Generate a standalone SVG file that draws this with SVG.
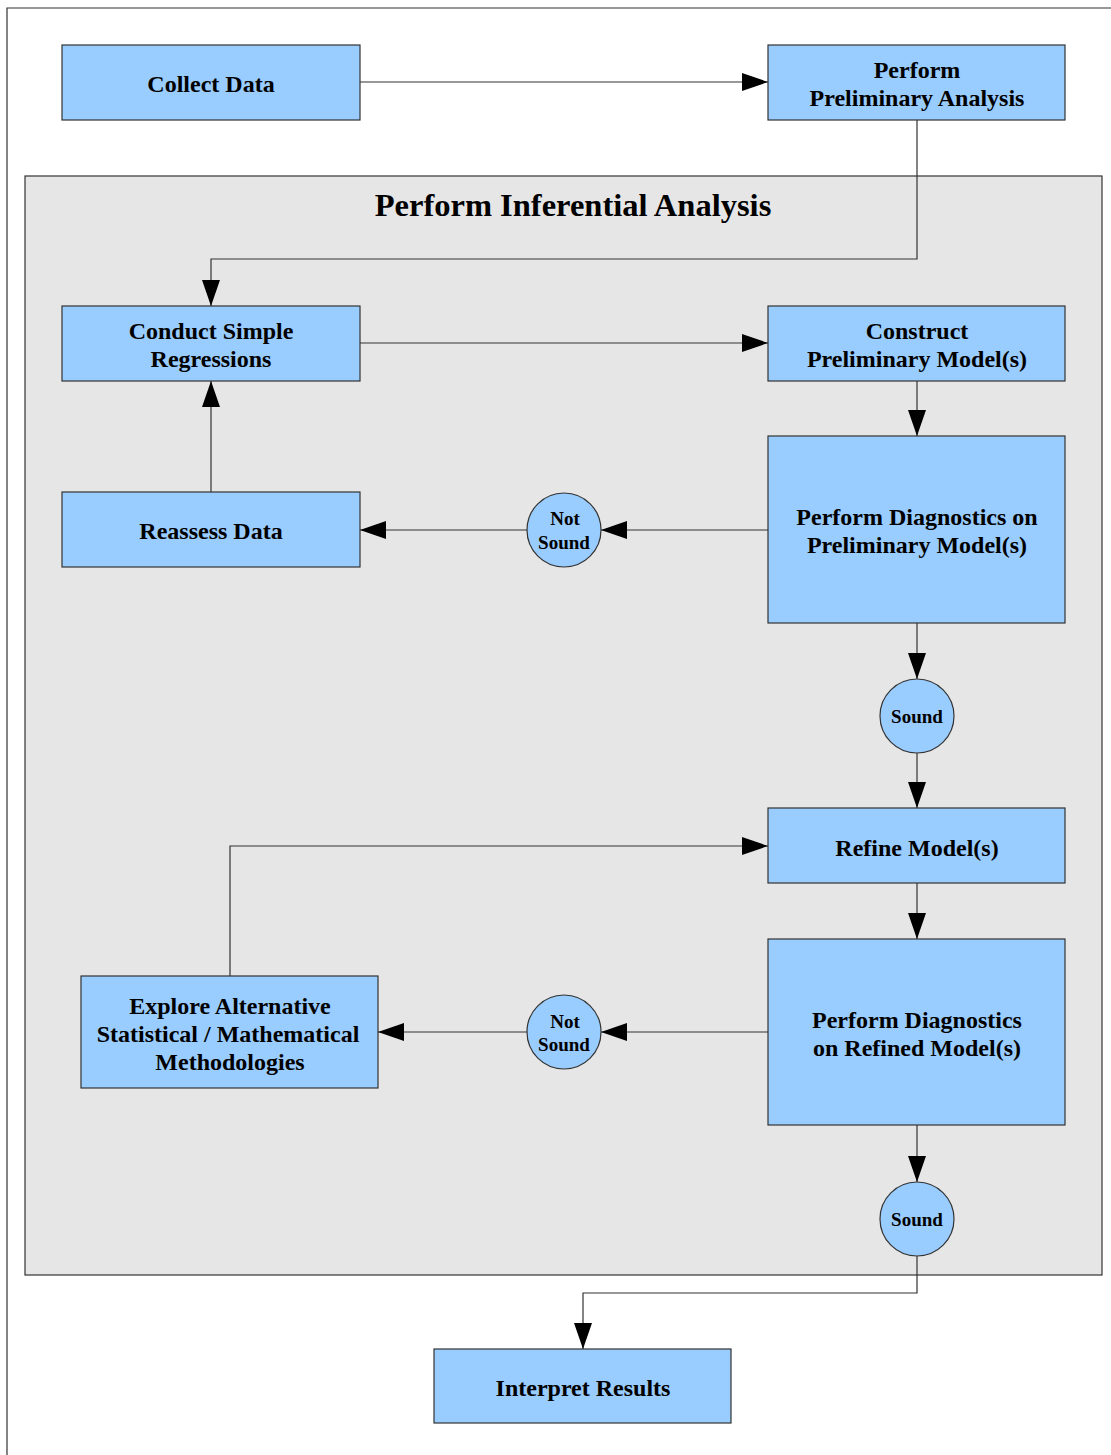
<svg xmlns="http://www.w3.org/2000/svg" width="1111" height="1455" viewBox="0 0 1111 1455">
<defs>
<marker id="ah" markerWidth="26" markerHeight="18" refX="26" refY="9" orient="auto" markerUnits="userSpaceOnUse">
<path d="M0,0 L26,9 L0,18 Z" fill="#000"/>
</marker>
<style>
.box{fill:#99ccff;stroke:#333;stroke-width:1.2}
.circ{fill:#99ccff;stroke:#333;stroke-width:1.2}
.t{font-family:"Liberation Serif",serif;font-weight:bold;font-size:24px;text-anchor:middle;fill:#000}
.ts{font-family:"Liberation Serif",serif;font-weight:bold;font-size:19px;text-anchor:middle;fill:#000}
.c{fill:none;stroke:#333;stroke-width:1.2;marker-end:url(#ah)}
</style>
</defs>
<rect width="1111" height="1455" fill="#fff"/>
<path d="M7,1455 V8 H1111" fill="none" stroke="#333" stroke-width="1.2"/>
<g id="container">
<rect x="25" y="176" width="1077" height="1099" fill="#e6e6e6" stroke="#333" stroke-width="1.2"/>
<text x="573" y="216" style="font-family:'Liberation Serif',serif;font-weight:bold;font-size:32.5px;text-anchor:middle">Perform Inferential Analysis</text>
</g>
<g id="connectors">
<path class="c" d="M360,82 H768"/>
<path class="c" d="M917,120 V259 H211 V306"/>
<path class="c" d="M360,343 H768"/>
<path class="c" d="M917,381 V436"/>
<path class="c" d="M768,530 H601"/>
<path class="c" d="M527,530 H360"/>
<path class="c" d="M211,492 V381"/>
<path class="c" d="M917,623 V679"/>
<path class="c" d="M917,753 V808"/>
<path class="c" d="M917,883 V939"/>
<path class="c" d="M768,1032 H601"/>
<path class="c" d="M527,1032 H378"/>
<path class="c" d="M230,976 V846 H768"/>
<path class="c" d="M917,1125 V1182"/>
<path class="c" d="M917,1256 V1293 H583 V1349"/>
</g>
<g id="collect"><rect class="box" x="62" y="45" width="298" height="75"/><text class="t" x="211" y="92">Collect Data</text></g>
<g id="prelim"><rect class="box" x="768" y="45" width="297" height="75"/><text class="t" x="917" y="78">Perform</text><text class="t" x="917" y="106">Preliminary Analysis</text></g>
<g id="conduct"><rect class="box" x="62" y="306" width="298" height="75"/><text class="t" x="211" y="339">Conduct Simple</text><text class="t" x="211" y="367">Regressions</text></g>
<g id="construct"><rect class="box" x="768" y="306" width="297" height="75"/><text class="t" x="917" y="339">Construct</text><text class="t" x="917" y="367">Preliminary Model(s)</text></g>
<g id="reassess"><rect class="box" x="62" y="492" width="298" height="75"/><text class="t" x="211" y="539">Reassess Data</text></g>
<g id="diag1"><rect class="box" x="768" y="436" width="297" height="187"/><text class="t" x="917" y="525">Perform Diagnostics on</text><text class="t" x="917" y="553">Preliminary Model(s)</text></g>
<g id="notsound1"><circle class="circ" cx="564" cy="530" r="37"/><text class="ts" x="565" y="525">Not</text><text class="ts" x="564" y="549">Sound</text></g>
<g id="sound1"><circle class="circ" cx="917" cy="716" r="37"/><text class="ts" x="917" y="723">Sound</text></g>
<g id="refine"><rect class="box" x="768" y="808" width="297" height="75"/><text class="t" x="917" y="856">Refine Model(s)</text></g>
<g id="diag2"><rect class="box" x="768" y="939" width="297" height="186"/><text class="t" x="917" y="1028">Perform Diagnostics</text><text class="t" x="917" y="1056">on Refined Model(s)</text></g>
<g id="notsound2"><circle class="circ" cx="564" cy="1032" r="37"/><text class="ts" x="565" y="1028">Not</text><text class="ts" x="564" y="1051">Sound</text></g>
<g id="explore"><rect class="box" x="81" y="976" width="297" height="112"/><text class="t" x="230" y="1014">Explore Alternative</text><text class="t" x="228" y="1042">Statistical / Mathematical</text><text class="t" x="230" y="1070">Methodologies</text></g>
<g id="sound2"><circle class="circ" cx="917" cy="1219" r="37"/><text class="ts" x="917" y="1226">Sound</text></g>
<g id="interpret"><rect class="box" x="434" y="1349" width="297" height="74"/><text class="t" x="583" y="1396">Interpret Results</text></g>
</svg>
